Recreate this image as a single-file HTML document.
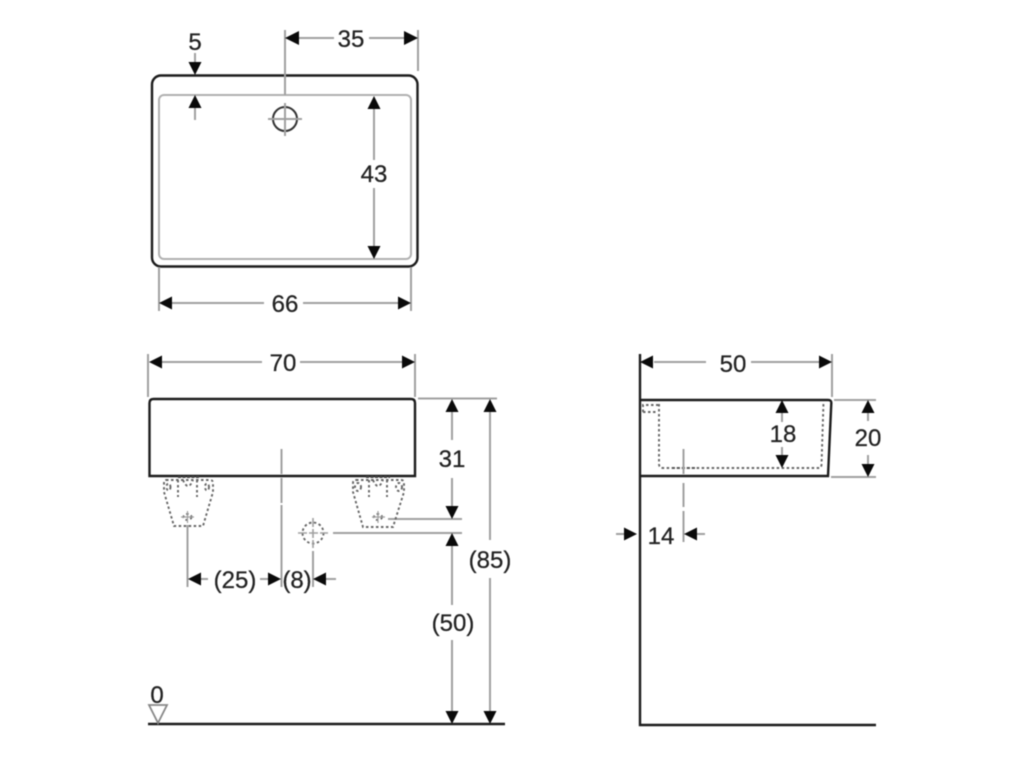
<!DOCTYPE html>
<html><head><meta charset="utf-8"><style>
html,body{margin:0;padding:0;background:#fff;width:1024px;height:768px;overflow:hidden}
svg{display:block;filter:blur(0.45px)}
text{font-family:"Liberation Sans",sans-serif;font-size:24px;fill:#222;stroke:#222;stroke-width:0.25;text-anchor:middle}
.g{stroke:#a0a0a0;stroke-width:2;fill:none}
.k{stroke:#1c1c1c;stroke-width:2.4;fill:none}
.d{stroke:#666;stroke-width:1.9;fill:none;stroke-dasharray:2.5 2.5}
.a{fill:#0a0a0a;stroke:none}
</style></head><body>
<svg width="1024" height="768" viewBox="0 0 1024 768" xmlns="http://www.w3.org/2000/svg">
<!-- Top view -->
<rect class="k" x="152" y="75.5" width="265.5" height="191" rx="9"/>
<rect class="g" x="159" y="95" width="252" height="164" rx="5" style="stroke:#b0b0b0"/>
<path class="g" d="M285 30V95M418 30V71M195 53V62M195 108V120M374 109V160M374 188V246"/>
<path class="g" d="M299 38H334M369 38H405"/>
<circle cx="285" cy="119" r="12" fill="none" stroke="#333" stroke-width="2"/>
<path class="g" d="M268 119H302M285 103V136"/>
<polygon class="a" points="285,38 299,31 299,45"/>
<polygon class="a" points="418,38 404,31 404,45"/>
<polygon class="a" points="195,75 188.500,62 201.500,62"/>
<polygon class="a" points="195,95 188.500,108 201.500,108"/>
<polygon class="a" points="374,96 367.500,109 380.500,109"/>
<polygon class="a" points="374,259 367.500,246 380.500,246"/>
<text x="351" y="47">35</text>
<text x="195" y="50">5</text>
<text x="374" y="182">43</text>
<!-- 66 -->
<path class="g" d="M159 267V311M411 267V311M172 303H264M303 303H398"/>
<polygon class="a" points="159,303 172,296.500 172,309.500"/>
<polygon class="a" points="411,303 398,296.500 398,309.500"/>
<text x="285" y="312">66</text>
<!-- 70 -->
<path class="g" d="M148 354V397M415 354V397M162 362H262M300 362H402"/>
<polygon class="a" points="149,362 162,355.500 162,368.500"/>
<polygon class="a" points="415,362 402,355.500 402,368.500"/>
<text x="283" y="371">70</text>
<!-- Front view -->
<path class="k" d="M149.500 476V403Q149.500 399 153.500 399H411Q415 399 415 403V476H149.500Z"/>
<path class="g" d="M418 398.500H497M388 519H462M333 533H462M452 412V440M452 478V506M452 546V605M452 640V711M490 412V540M490 578V711"/>
<path class="g" d="M281.500 449V474M281.500 478V503M281.500 505V587"/>
<path class="g" d="M187.500 525V587M313 551V587M201 579H208M260 579H268M326 579H336"/>
<polygon class="a" points="452,399 445.500,412 458.500,412"/>
<polygon class="a" points="452,519 445.500,506 458.500,506"/>
<polygon class="a" points="452,533 445.500,546 458.500,546"/>
<polygon class="a" points="452,724 445.500,711 458.500,711"/>
<polygon class="a" points="490,399 483.500,412 496.500,412"/>
<polygon class="a" points="490,724 483.500,711 496.500,711"/>
<polygon class="a" points="188,579 201,572.500 201,585.500"/>
<polygon class="a" points="281,579 268,572.500 268,585.500"/>
<polygon class="a" points="313,579 326,572.500 326,585.500"/>
<text x="452" y="467">31</text>
<text x="453" y="631">(50)</text>
<text x="490" y="568">(85)</text>
<text x="235" y="588">(25)</text>
<text x="297" y="588">(8)</text>
<!-- Left bracket -->
<path class="d" d="M166 480H210Q213 480 213 483V492L203 526H174L164 492V483Q164 480 166 480Z"/>
<path class="d" d="M178 480V497M197 480V497M183 480Q188 492 193 480"/>
<path d="M178 477H199" stroke="#444" stroke-width="2" fill="none" stroke-dasharray="3 1.500"/>
<ellipse class="d" cx="168.500" cy="487" rx="2" ry="3.500"/>
<ellipse class="d" cx="207" cy="487" rx="2" ry="3.500"/>
<ellipse class="d" cx="187.500" cy="517" rx="4" ry="3"/>
<path class="g" d="M181 517H194M187.500 511V523" style="stroke-width:1.200"/>
<!-- Right bracket -->
<path class="d" d="M356 480H401Q404 480 404 483V492L393 527H363L353 492V483Q353 480 356 480Z"/>
<path class="d" d="M369 480V497M387 480V497M373 480Q378 492 383 480"/>
<path d="M366 477H390" stroke="#444" stroke-width="2" fill="none" stroke-dasharray="3 1.500"/>
<ellipse class="d" cx="358" cy="487" rx="3" ry="4"/>
<ellipse class="d" cx="399" cy="487" rx="3" ry="4"/>
<ellipse class="d" cx="378" cy="517" rx="4" ry="3"/>
<path class="g" d="M372 517H385M378 511V523" style="stroke-width:1.200"/>
<!-- Dashed crosshair -->
<circle class="d" cx="313" cy="533" r="10.500"/>
<path class="g" d="M298 533H328M313 518V548" style="stroke-dasharray:9 2;stroke-width:1.600"/>
<!-- Ground left -->
<path d="M148 724H505" stroke="#1c1c1c" stroke-width="2.400" fill="none"/>
<polygon points="149,705 167,705 158,723" fill="none" stroke="#888" stroke-width="1.800"/>
<text x="157" y="703">0</text>
<!-- Side view -->
<path d="M640 354V725H876" stroke="#1c1c1c" stroke-width="2.400" fill="none"/>
<path class="k" d="M640 400H828Q831.500 400 831.300 403L828 476H640"/>
<path class="d" d="M659 404V464Q659 468 663 468H819Q821 468 821.500 465L823.500 402"/>
<path class="d" d="M643 412V405H658M643 412H658"/>
<path d="M672 468H695" stroke="#555" stroke-width="1.800" stroke-dasharray="3 2" fill="none"/>
<path class="g" d="M832 354V397M654 362H706M751 362H819M834 400H876M831 477H876"/>
<path class="g" d="M782 413V422M782 447V455M868 413V421M868 455V464"/>
<path class="g" d="M683.500 449V474M683.500 483V507M683.500 511V542M616 534H624M697 534H705"/>
<polygon class="a" points="640,362 653,355.500 653,368.500"/>
<polygon class="a" points="832,362 819,355.500 819,368.500"/>
<polygon class="a" points="782,400 775.500,413 788.500,413"/>
<polygon class="a" points="782,468 775.500,455 788.500,455"/>
<polygon class="a" points="868,400 861.500,413 874.500,413"/>
<polygon class="a" points="868,477 861.500,464 874.500,464"/>
<polygon class="a" points="637,534 624,527.500 624,540.500"/>
<polygon class="a" points="684,534 697,527.500 697,540.500"/>
<text x="733" y="372">50</text>
<text x="783" y="442">18</text>
<text x="868" y="446">20</text>
<text x="661" y="544">14</text>
</svg>
</body></html>
